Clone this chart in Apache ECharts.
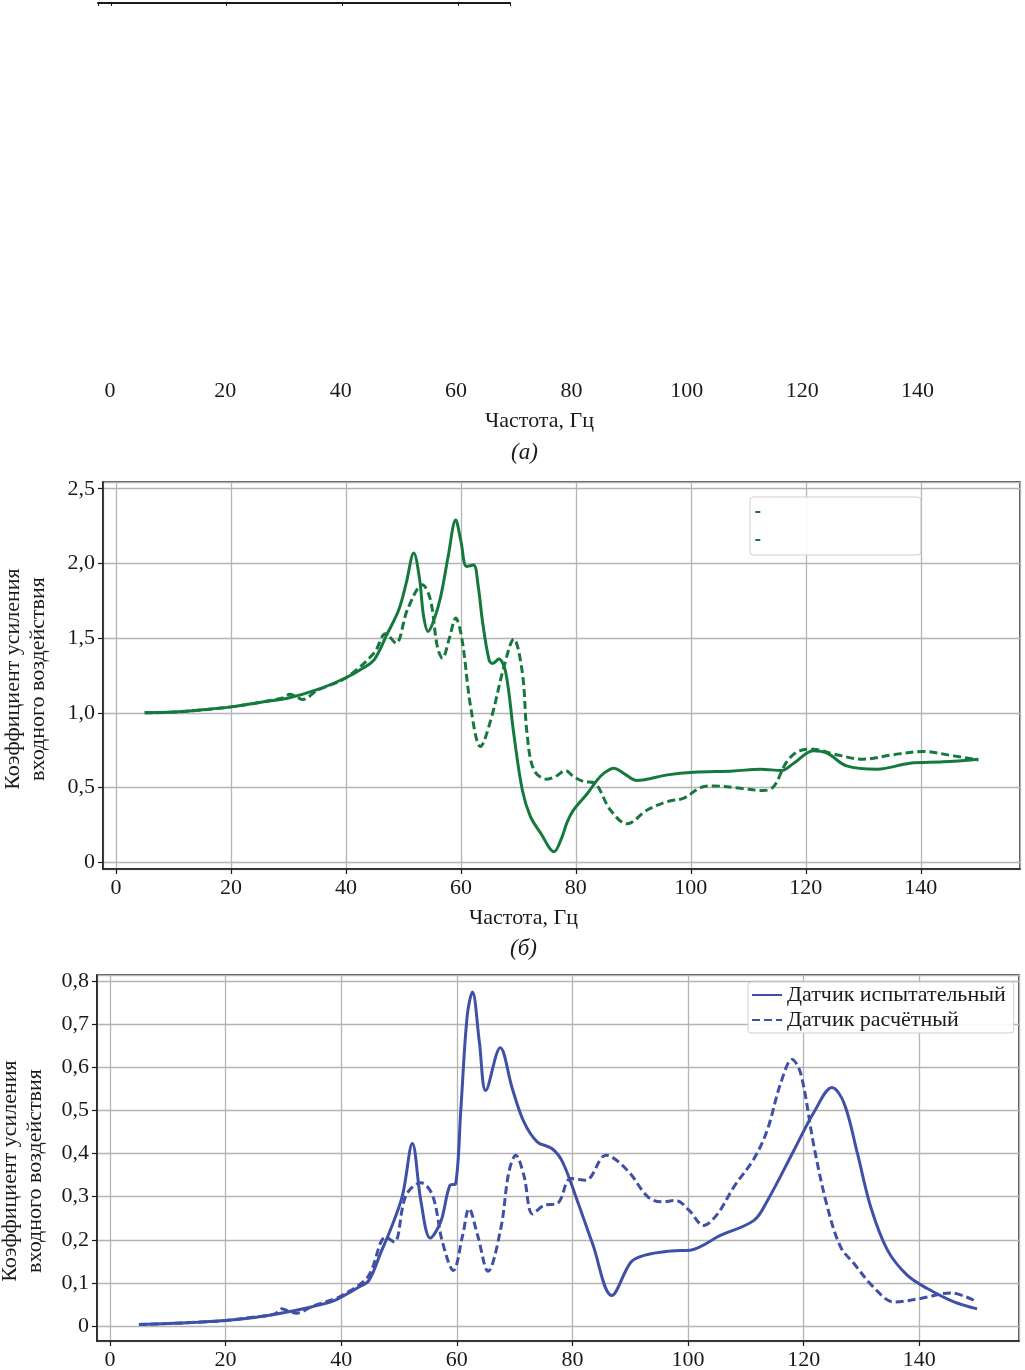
<!DOCTYPE html>
<html>
<head>
<meta charset="utf-8">
<script src="https://cdn.jsdelivr.net/npm/echarts@6/dist/echarts.min.js"></script>
<style>
html,body{margin:0;padding:0;background:#fff;}
#c{width:1025px;height:1370px;}
</style>
</head>
<body>
<div id="c"></div>
<script>
// ---- Data ----
const xTicks = [0, 20, 40, 60, 80, 100, 120, 140];
const xName = 'Частота, Гц';
const yName = 'Коэффициент усиления\nвходного воздействия';
const legendNames = ['Датчик испытательный', 'Датчик расчётный'];

// Panel (б): green
const freqGreenExp = [5,10,15,20,25,30,35,40,43,45,47.2,49.2,50.5,51.8,52.8,53.5,54.3,55.3,56.5,57.8,59.1,60.0,61.0,62.2,63.0,63.8,64.9,65.5,66.6,67.8,69.2,70.7,72.1,73.9,76.2,77.5,78.5,79.6,82.0,83.7,85.0,86.6,88.5,90.6,95.9,100.5,107.4,112.1,115.8,117.9,121.3,123.7,127.1,132.4,138.1,143.9,150];
const valGreenExp  = [1.00,1.005,1.02,1.04,1.07,1.10,1.155,1.235,1.30,1.36,1.53,1.69,1.87,2.07,1.90,1.65,1.545,1.62,1.78,2.05,2.29,2.15,1.98,1.99,1.85,1.60,1.355,1.33,1.36,1.27,0.86,0.48,0.305,0.194,0.071,0.16,0.27,0.35,0.46,0.55,0.60,0.63,0.59,0.547,0.585,0.603,0.611,0.623,0.614,0.663,0.747,0.73,0.645,0.623,0.663,0.672,0.69];

const freqGreenCalc = [5,10,15,20,25,29,30.3,31.5,32.5,35,40,44.9,46.9,48.7,50.7,53.3,54.7,55.9,56.8,58.0,59.1,60.2,61.7,63.4,65.2,67.5,69.2,70.7,71.5,72.7,75.0,76.5,78.2,79.6,81.4,83.1,86.0,88.9,92.4,95.9,98.8,101.7,104.0,108.6,112.6,114.4,116.7,119.0,121.3,124.8,130.0,135.2,140.4,145.7,150];
const valGreenCalc  = [1.00,1.005,1.02,1.04,1.07,1.10,1.125,1.105,1.09,1.15,1.235,1.40,1.53,1.467,1.69,1.857,1.757,1.444,1.366,1.50,1.634,1.49,1.04,0.774,0.953,1.31,1.494,1.266,0.864,0.618,0.556,0.575,0.613,0.573,0.54,0.533,0.35,0.257,0.35,0.406,0.43,0.50,0.511,0.495,0.48,0.506,0.674,0.747,0.757,0.725,0.69,0.72,0.741,0.712,0.685];

// Panel (в): blue
const freqBlueExp = [5,10,15,20,25,30,35,38.2,40,43,44.8,46.9,48.6,50.6,52.3,53.8,55.4,57.2,58.8,59.8,60.7,61.8,62.7,63.9,65.0,67.5,69.6,71.6,73.9,76.5,78.3,80.9,83.5,86.8,90.1,92.4,97.0,100.4,105.6,111.4,113.7,118.3,121.8,124.9,127.0,129.3,131.6,134.5,137.9,141.4,146.0,150];
const valBlueExp  = [0.004,0.006,0.009,0.013,0.02,0.031,0.045,0.056,0.067,0.09,0.106,0.172,0.226,0.303,0.423,0.288,0.204,0.241,0.326,0.33,0.504,0.72,0.774,0.658,0.546,0.645,0.55,0.473,0.427,0.411,0.38,0.288,0.19,0.071,0.148,0.164,0.174,0.176,0.21,0.245,0.29,0.407,0.496,0.553,0.516,0.40,0.276,0.176,0.118,0.087,0.056,0.040];

const freqBlueCalc = [5,10,15,20,25,28.5,29.7,31,32.3,35,38.2,40,44.6,47.7,49.2,51.2,53.8,55.8,57.5,59.4,61.0,62.1,63.6,65.4,67.6,69.0,70.2,71.6,73.1,75.1,77.4,79.7,82.3,85.8,89.5,93.0,95.3,97.9,100.2,102.7,105.1,107.9,111.4,113.7,116.0,118.0,119.5,121.8,124.1,126.4,128.7,132.1,135.6,140.2,145.4,150];
const valBlueCalc  = [0.004,0.006,0.009,0.013,0.021,0.028,0.04,0.034,0.03,0.046,0.06,0.07,0.114,0.206,0.195,0.303,0.332,0.303,0.195,0.129,0.21,0.272,0.21,0.127,0.226,0.357,0.396,0.349,0.26,0.28,0.284,0.342,0.338,0.396,0.361,0.30,0.288,0.291,0.268,0.233,0.26,0.322,0.388,0.454,0.562,0.618,0.585,0.415,0.276,0.183,0.145,0.09,0.056,0.064,0.077,0.056];

// ---- Chart ----
const FONT = '"Liberation Serif", "DejaVu Serif", serif';
const FS = 22;
const GREEN = '#15793d';
const BLUE = '#3f50a6';
const INK = '#1a1a1a';
const GRIDC = '#b4b4b4';
const pairs = (xs, ys) => xs.map((x, i) => [x, ys[i]]);

const xLabelFmt = v => {
  const r = Math.round(v / 20) * 20;
  return (Math.abs(v - r) < 1e-6 && xTicks.indexOf(r) >= 0) ? String(r) : '';
};
const yFmt = (step, top) => v => {
  const r = Math.round(v / step) * step;
  if (Math.abs(v - r) > 1e-6 || r < -1e-9 || r > top + 1e-9) return '';
  if (Math.abs(r) < 1e-9) return '0';
  return r.toFixed(1).replace('.', ',');
};

function mainX(gridIndex, showLines) {
  return {
    type: 'value', gridIndex, min: -2.25, max: 157.25, splitNumber: 8,
    axisLine: { show: showLines, onZero: false, lineStyle: { color: INK, width: 1.5 } },
    axisTick: { show: showLines, length: 5, lineStyle: { color: INK, width: 1.2 } },
    splitLine: { show: showLines, lineStyle: { color: GRIDC, width: 1.3 } },
    axisLabel: { show: true, margin: 8, formatter: xLabelFmt, color: INK,
                 fontFamily: FONT, fontSize: FS, showMinLabel: false, showMaxLabel: false }
  };
}
function mainY(gridIndex, min, max, split, step, top, gap, shift) {
  return {
    type: 'value', gridIndex, min, max, splitNumber: split,
    name: yName, nameLocation: 'middle', nameGap: gap, nameRotate: 90,
    nameTextStyle: { fontFamily: FONT, fontSize: FS, color: INK, lineHeight: 25, padding: [0, shift, 0, 0] },
    axisLine: { show: true, onZero: false, lineStyle: { color: INK, width: 1.5 } },
    axisTick: { show: true, length: 5, lineStyle: { color: INK, width: 1.2 } },
    splitLine: { show: true, lineStyle: { color: GRIDC, width: 1.3 } },
    axisLabel: { margin: 8, formatter: yFmt(step, top), color: INK,
                 fontFamily: FONT, fontSize: FS, showMinLabel: false, showMaxLabel: false }
  };
}
function lineSeries(name, xi, yi, data, color, dashed) {
  return {
    type: 'line', name, xAxisIndex: xi, yAxisIndex: yi, data,
    showSymbol: false, symbol: 'none', smooth: 0.35, animation: false,
    lineStyle: { color, width: 3, type: dashed ? [8, 4] : 'solid' },
    itemStyle: { color }, z: dashed ? 3 : 4
  };
}
const gridBase = { containLabel: false, outerBoundsMode: 'none' };

const chart = echarts.init(document.getElementById('c'), null, { renderer: 'canvas', width: 1025, height: 1370 });
const option = {
  backgroundColor: '#fff',
  animation: false,
  textStyle: { fontFamily: FONT },
  title: [
    { text: xName, left: 480, top: 405, textStyle: { fontFamily: FONT, fontSize: FS, fontWeight: 'normal', color: INK } },
    { text: '(а)', left: 506, top: 436, textStyle: { fontFamily: FONT, fontSize: 23, fontStyle: 'italic', fontWeight: 'normal', color: INK } },
    { text: xName, left: 464, top: 902, textStyle: { fontFamily: FONT, fontSize: FS, fontWeight: 'normal', color: INK } },
    { text: '(б)', left: 505, top: 932, textStyle: { fontFamily: FONT, fontSize: 23, fontStyle: 'italic', fontWeight: 'normal', color: INK } }
  ],
  grid: [
    Object.assign({ left: 97, top: 3, width: 920, height: 369, show: false }, gridBase),
    Object.assign({ left: 98, top: 3, width: 412, height: 1, show: false }, gridBase),
    Object.assign({ left: 103, top: 482, width: 917, height: 387, show: true, borderColor: INK, borderWidth: 1.5 }, gridBase),
    Object.assign({ left: 97, top: 975, width: 922, height: 366, show: true, borderColor: INK, borderWidth: 1.5 }, gridBase)
  ],
  xAxis: [
    mainX(0, false),
    { type: 'value', gridIndex: 1, min: -2.25, max: 68.98, splitNumber: 4, position: 'top',
      axisLine: { show: true, onZero: false, lineStyle: { color: INK, width: 2 } },
      axisTick: { show: true, inside: true, length: 3, lineStyle: { color: INK, width: 1 } },
      splitLine: { show: false }, axisLabel: { show: false } },
    mainX(2, true),
    mainX(3, true)
  ],
  yAxis: [
    { type: 'value', gridIndex: 0, min: 0, max: 2, show: false },
    { type: 'value', gridIndex: 1, min: 0, max: 1, show: false },
    mainY(2, -0.045, 2.545, 5, 0.5, 2.5, 52, 7),
    mainY(3, -0.0345, 0.8135, 8, 0.1, 0.8, 49, 26)
  ],
  legend: [
    { orient: 'vertical', left: 750, top: 497, data: ['эксп. (б)', 'расч. (б)'],
      itemWidth: 5, itemHeight: 12, itemGap: 6, formatter: () => ' ',
      itemStyle: { opacity: 0 },
      textStyle: { fontFamily: FONT, fontSize: FS },
      borderColor: '#cfcfcf', borderWidth: 1, borderRadius: 3, padding: [4, 150, 4, 3],
      backgroundColor: 'rgba(255,255,255,0.9)', selectedMode: false },
    { orient: 'vertical', left: 748, top: 982, data: legendNames,
      itemWidth: 30, itemHeight: 14, itemGap: 3,
      itemStyle: { opacity: 0 },
      textStyle: { fontFamily: FONT, fontSize: FS, color: INK },
      borderColor: '#cfcfcf', borderWidth: 1, borderRadius: 3, padding: [2, 8, 2, 3],
      backgroundColor: 'rgba(255,255,255,0.9)', selectedMode: false }
  ],
  series: [
    lineSeries('эксп. (б)', 2, 2, pairs(freqGreenExp, valGreenExp), GREEN, false),
    lineSeries('расч. (б)', 2, 2, pairs(freqGreenCalc, valGreenCalc), GREEN, true),
    lineSeries(legendNames[0], 3, 3, pairs(freqBlueExp, valBlueExp), BLUE, false),
    lineSeries(legendNames[1], 3, 3, pairs(freqBlueCalc, valBlueCalc), BLUE, true)
  ]
};
chart.setOption(option);
</script>
</body>
</html>
